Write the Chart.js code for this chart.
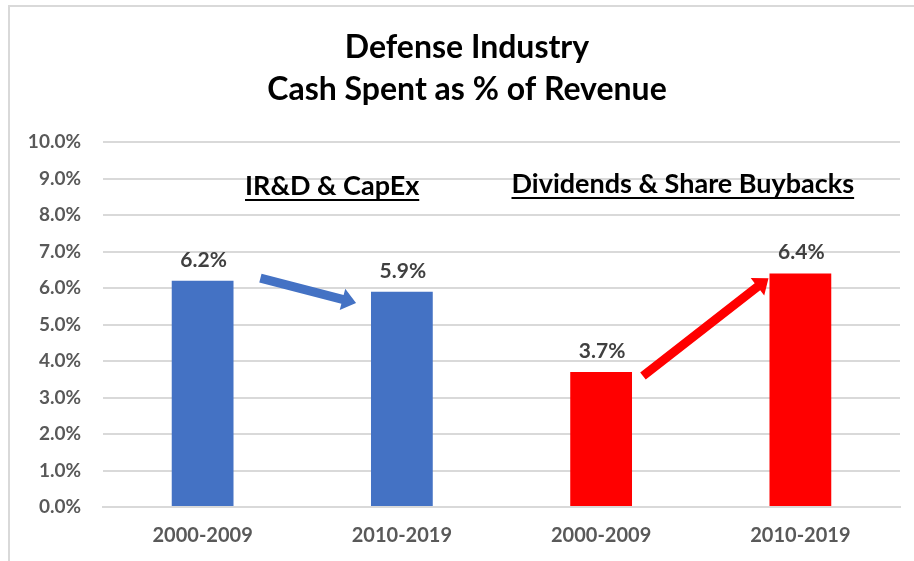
<!DOCTYPE html>
<html>
<head>
<meta charset="utf-8">
<script src="https://cdn.jsdelivr.net/npm/chart.js@4"></script>
<style>
  html, body { margin: 0; padding: 0; background: #ffffff; }
  #wrap { width: 914px; height: 561px; position: relative; }
</style>
</head>
<body>
<div id="wrap"><canvas id="c" width="914" height="561"></canvas></div>
<script>
// ---- data ----
const categories = ['2000-2009', '2010-2019', '2000-2009', '2010-2019'];
const values = [6.2, 5.9, 3.7, 6.4];
const barColors = ['#4472C4', '#4472C4', '#FF0000', '#FF0000'];
const titleLines = ['Defense Industry', 'Cash Spent as % of Revenue'];
const groupTitles = ['IR&D & CapEx', 'Dividends & Share Buybacks'];
const groupTitleX = [0.65, 2.41];       // category-index units
const groupTitleY = [8.55, 8.6];        // value units (baseline)
const arrowFrom = [[0.29, 6.27], [2.21, 3.59]];
const arrowTo = [[0.77, 5.59], [2.84, 6.27]];
const arrowColors = ['#4472C4', '#FF0000'];
const yMin = 0, yMax = 10, yStep = 1;

const FONT = 'Lato, "Liberation Sans", Arial, sans-serif';

const decorPlugin = {
  id: 'decor',
  beforeDraw(chart) {
    const ctx = chart.ctx;
    ctx.save();
    ctx.fillStyle = '#ffffff';
    ctx.fillRect(0, 0, chart.width, chart.height);
    ctx.strokeStyle = '#d9d9d9';
    ctx.lineWidth = 2;
    ctx.beginPath();
    ctx.moveTo(9, chart.height);
    ctx.lineTo(9, 6);
    ctx.lineTo(chart.width, 6);
    ctx.stroke();
    ctx.restore();
  },
  afterDatasetsDraw(chart) {
    const ctx = chart.ctx;
    const xs = chart.scales.x, ys = chart.scales.y;
    ctx.save();
    // title
    ctx.fillStyle = '#000000';
    ctx.textAlign = 'center';
    ctx.textBaseline = 'middle';
    ctx.font = 'bold 32px ' + FONT;
    const cx = 467;
    ctx.fillText(titleLines[0], cx, 48);
    ctx.fillText(titleLines[1], cx, 90);

    // data labels
    const meta = chart.getDatasetMeta(0);
    ctx.fillStyle = '#404040';
    ctx.font = 'bold 21px ' + FONT;
    ctx.textBaseline = 'alphabetic';
    meta.data.forEach((bar, i) => {
      ctx.fillText(values[i].toFixed(1) + '%', bar.x + 1, bar.y - 14);
    });

    // group titles (underlined)
    ctx.fillStyle = '#000000';
    ctx.strokeStyle = '#000000';
    ctx.font = 'bold 27px ' + FONT;
    groupTitles.forEach((t, i) => {
      const px = xs.getPixelForValue(groupTitleX[i]);
      const py = ys.getPixelForValue(groupTitleY[i]);
      ctx.textAlign = 'center';
      ctx.fillText(t, px, py);
      const w = ctx.measureText(t).width;
      ctx.lineWidth = 2;
      ctx.beginPath();
      ctx.moveTo(px - w / 2, py + 5);
      ctx.lineTo(px + w / 2, py + 5);
      ctx.stroke();
    });

    // arrows
    arrowFrom.forEach((f, i) => {
      const x1 = xs.getPixelForValue(f[0]), y1 = ys.getPixelForValue(f[1]);
      const x2 = xs.getPixelForValue(arrowTo[i][0]), y2 = ys.getPixelForValue(arrowTo[i][1]);
      const dx = x2 - x1, dy = y2 - y1, len = Math.hypot(dx, dy);
      const ux = dx / len, uy = dy / len, nx = -uy, ny = ux;
      const sw = 4.5, hw = 11, hl = 14;
      const bx = x2 - ux * hl, by = y2 - uy * hl;
      ctx.fillStyle = arrowColors[i];
      ctx.beginPath();
      ctx.moveTo(x1 + nx * sw, y1 + ny * sw);
      ctx.lineTo(bx + nx * sw, by + ny * sw);
      ctx.lineTo(bx + nx * hw, by + ny * hw);
      ctx.lineTo(x2, y2);
      ctx.lineTo(bx - nx * hw, by - ny * hw);
      ctx.lineTo(bx - nx * sw, by - ny * sw);
      ctx.lineTo(x1 - nx * sw, y1 - ny * sw);
      ctx.closePath();
      ctx.fill();
    });
    ctx.restore();
  }
};

new Chart(document.getElementById('c'), {
  type: 'bar',
  data: {
    labels: categories,
    datasets: [{
      data: values,
      backgroundColor: barColors,
      borderWidth: 0,
      barPercentage: 0.31,
      categoryPercentage: 1.0
    }]
  },
  options: {
    responsive: false,
    animation: false,
    devicePixelRatio: 1,
    layout: { padding: { top: 142, right: 14, bottom: 0, left: 0 } },
    plugins: {
      legend: { display: false },
      title: { display: false },
      tooltip: { enabled: false }
    },
    scales: {
      x: {
        grid: { display: false, drawTicks: false },
        border: { display: true, color: '#d9d9d9', width: 2 },
        ticks: {
          color: '#595959',
          font: { family: FONT, size: 20, weight: 'bold' },
          padding: 17,
          maxRotation: 0
        },
        afterFit(s) { s.height = 54; }
      },
      y: {
        min: yMin, max: yMax,
        grid: { color: '#d9d9d9', lineWidth: 2, drawTicks: false },
        border: { display: false },
        ticks: {
          stepSize: yStep,
          color: '#595959',
          font: { family: FONT, size: 19, weight: 'bold' },
          padding: 22,
          callback: v => Number(v).toFixed(1) + '%'
        },
        afterFit(s) { s.width = 103; }
      }
    }
  },
  plugins: [decorPlugin]
});
</script>
</body>
</html>
